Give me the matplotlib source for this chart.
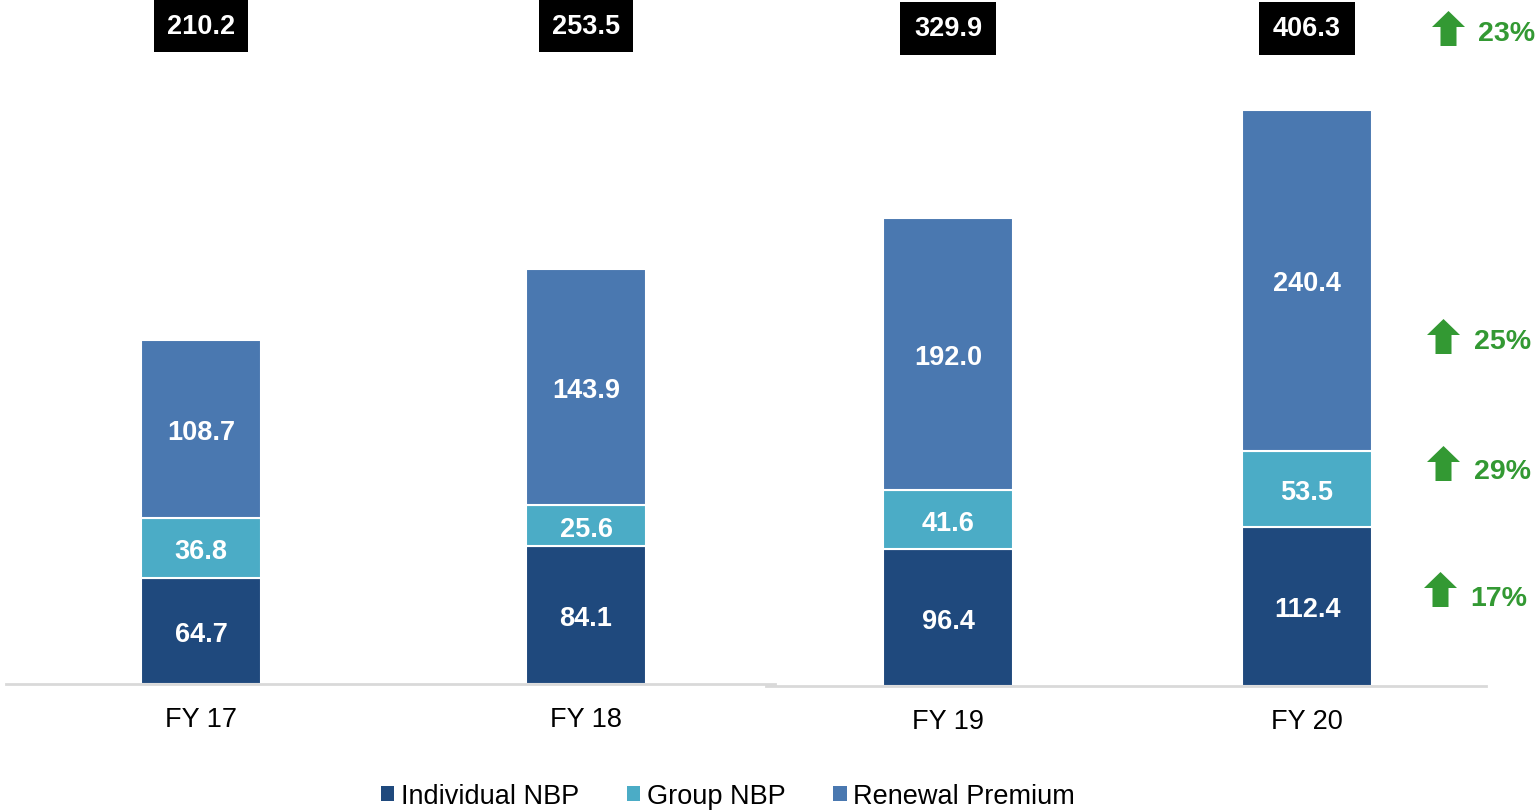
import matplotlib
matplotlib.use("Agg")
import matplotlib.pyplot as plt
from matplotlib.patches import Polygon, Patch
from matplotlib.transforms import blended_transform_factory, offset_copy

plt.rcParams['font.family'] = ['Liberation Sans', 'DejaVu Sans']

# ---- data ----
categories = ["FY 17", "FY 18", "FY 19", "FY 20"]
individual_nbp = [64.7, 84.1, 96.4, 112.4]
group_nbp = [36.8, 25.6, 41.6, 53.5]
renewal_premium = [108.7, 143.9, 192.0, 240.4]
totals = [210.2, 253.5, 329.9, 406.3]
growth_labels = ["23%", "25%", "29%", "17%"]

series_names = ["Individual NBP", "Group NBP", "Renewal Premium"]
colors = ["#1F497D", "#4BACC6", "#4A78B0"]
green = "#339933"

W, H = 1540, 812
fig = plt.figure(figsize=(W / 100, H / 100), dpi=100)


def fx(px):
    return px / W


def fy(py):
    return 1 - py / H


# two panels (the reference combines two separately scaled charts)
panels = [
    dict(idx=[0, 1], left=6, right=775, base=685, scale=1.635, width=0.31, x0=201, x1=586, box_y=27, pad=0.47),
    dict(idx=[2, 3], left=766, right=1486, base=687, scale=1.418, width=0.36, x0=948, x1=1307, box_y=29.5, pad=0.5),
]

for p in panels:
    ax = fig.add_axes([fx(p['left']), fy(p['base']), fx(p['right'] - p['left']), p['base'] / H])
    ax.patch.set_alpha(0)
    unit = p['x1'] - p['x0']
    ax.set_xlim((p['left'] - p['x0']) / unit, (p['right'] - p['x0']) / unit)
    ax.set_ylim(0, p['base'] / p['scale'])
    xs = list(range(len(p['idx'])))
    ind = [individual_nbp[i] for i in p['idx']]
    grp = [group_nbp[i] for i in p['idx']]
    ren = [renewal_premium[i] for i in p['idx']]
    lab_tr = offset_copy(ax.transData, fig=fig, x=0, y=-3, units="dots")
    bottoms = [0] * len(xs)
    for vals, c in zip([ind, grp, ren], colors):
        bars = ax.bar(xs, vals, p['width'], bottom=bottoms, color=c, edgecolor="white", linewidth=1.5, zorder=2)
        for b, v, bt in zip(bars, vals, bottoms):
            ax.text(b.get_x() + b.get_width() / 2, bt + v / 2, f"{v:.1f}", ha="center", va="center",
                    color="white", fontsize=19.5, fontweight="bold", zorder=3, transform=lab_tr)
        bottoms = [bt + v for bt, v in zip(bottoms, vals)]
    tr = blended_transform_factory(ax.transData, fig.transFigure)
    for x, i in zip(xs, p['idx']):
        ax.text(x, fy(p['box_y']), f"{totals[i]:.1f}", ha="center", va="center", color="white",
                fontsize=19.5, fontweight="bold", transform=tr,
                bbox=dict(boxstyle=f"square,pad={p['pad']}", facecolor="black", edgecolor="none"))
    ax.set_xticks(xs)
    ax.set_xticklabels([categories[i] for i in p['idx']], fontsize=19.5)
    ax.tick_params(axis="x", length=0, pad=16)
    ax.set_yticks([])
    for s in ["top", "right", "left"]:
        ax.spines[s].set_visible(False)
    ax.spines["bottom"].set_color("#d9d9d9")
    ax.spines["bottom"].set_linewidth(2)

# growth arrows and labels (pixel positions: arrow left x, arrow top y, text x, text center y)
growth_pos = [(1432, 12, 1478, 34), (1427, 320, 1474, 342), (1427, 447, 1474, 472), (1424, 573, 1470, 599)]
for lab, (ax_, ay, tx, ty) in zip(growth_labels, growth_pos):
    w, h, sw, hh = 33, 35, 16, 16
    cx = ax_ + w / 2
    pts = [(cx, ay), (ax_ + w, ay + hh), (cx + sw / 2, ay + hh), (cx + sw / 2, ay + h),
           (cx - sw / 2, ay + h), (cx - sw / 2, ay + hh), (ax_, ay + hh)]
    fig.add_artist(Polygon([(fx(x), fy(y)) for x, y in pts], closed=True, facecolor=green,
                           edgecolor="none", transform=fig.transFigure))
    fig.text(fx(tx), fy(ty), lab, ha="left", va="center", color=green, fontsize=20.5, fontweight="bold")

handles = [Patch(facecolor=c, edgecolor="none") for c in colors]
fig.legend(handles, series_names, loc="center", bbox_to_anchor=(fx(728), fy(797)), ncol=3, frameon=False,
           fontsize=19.5, handlelength=0.5, handleheight=0.5, handletextpad=0.25, columnspacing=1.75)

fig.savefig("out.png", dpi=100)
